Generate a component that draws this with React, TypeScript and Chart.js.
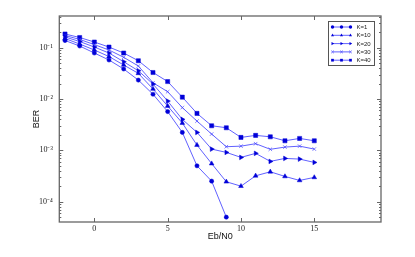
import { useEffect, useRef } from 'react';
import { Chart, registerables } from 'chart.js';
Chart.register(...registerables);

const ebn0 = [-2, -1, 0, 1, 2, 3, 4, 5, 6, 7, 8, 9, 10, 11, 12, 13, 14, 15];
const seriesLabels = ['K=1', 'K=10', 'K=20', 'K=30', 'K=40'];
const berK1 = [0.138, 0.108, 0.0788, 0.0576, 0.0385, 0.0234, 0.0124, 0.0057, 0.00224, 0.000501, 0.000252, 0.0000501];
const berK10 = [0.151, 0.118, 0.0902, 0.0673, 0.046, 0.0317, 0.0157, 0.00731, 0.00341, 0.00127, 0.000553, 0.000245, 0.000201, 0.00032, 0.000383, 0.000311, 0.00026, 0.000298];
const berK20 = [0.162, 0.132, 0.103, 0.0788, 0.0533, 0.0356, 0.0196, 0.00914, 0.00402, 0.00224, 0.00106, 0.000914, 0.000731, 0.000875, 0.000611, 0.000698, 0.000677, 0.000583];
const berK30 = [0.173, 0.145, 0.115, 0.0902, 0.0651, 0.044, 0.0208, 0.0139, 0.00682, 0.00372, 0.00208, 0.00118, 0.00121, 0.00135, 0.00105, 0.00116, 0.00121, 0.00106];
const berK40 = [0.185, 0.158, 0.129, 0.103, 0.0788, 0.0558, 0.0329, 0.0219, 0.0109, 0.00526, 0.00302, 0.00276, 0.00179, 0.00196, 0.00184, 0.00154, 0.00171, 0.00154];

const xMajorTicks = [0, 5, 10, 15];
const xTickLabels = ['0', '5', '10', '15'];
const yMajorTicks = [1e-4, 1e-3, 1e-2, 1e-1];
const yTickLabels = ['10⁻⁴', '10⁻³', '10⁻²', '10⁻¹'];

const LINE = 'rgba(30,30,255,0.7)';
const MARK = '#0000d8';

function drawMarker(ctx: CanvasRenderingContext2D, style: string, rot: number, x: number, y: number, r: number) {
  ctx.save();
  ctx.translate(x, y);
  ctx.rotate((rot * Math.PI) / 180);
  ctx.fillStyle = MARK;
  ctx.strokeStyle = MARK;
  ctx.beginPath();
  if (style === 'circle') {
    ctx.arc(0, 0, r, 0, Math.PI * 2);
    ctx.fill();
  } else if (style === 'triangle') {
    ctx.moveTo(0, -r);
    ctx.lineTo(r * 0.9, r * 0.6);
    ctx.lineTo(-r * 0.9, r * 0.6);
    ctx.closePath();
    ctx.fill();
  } else if (style === 'rect') {
    const s = r * 0.8;
    ctx.rect(-s, -s, 2 * s, 2 * s);
    ctx.fill();
  } else {
    ctx.strokeStyle = 'rgba(60,60,255,0.8)';
    ctx.lineWidth = 0.8;
    ctx.moveTo(-r * 0.8, -r * 0.8);
    ctx.lineTo(r * 0.8, r * 0.8);
    ctx.moveTo(r * 0.8, -r * 0.8);
    ctx.lineTo(-r * 0.8, r * 0.8);
    ctx.stroke();
  }
  ctx.restore();
}

const framePlugin = {
  id: 'frameTicksLegend',
  afterDatasetsDraw(chart: any) {
    const { ctx, chartArea: a, scales } = chart;
    const xs = scales.x;
    const ys = scales.y;
    ctx.save();
    ctx.strokeStyle = '#666';
    ctx.lineWidth = 1;
    ctx.beginPath();
    xMajorTicks.forEach((v) => {
      const px = Math.round(xs.getPixelForValue(v)) + 0.5;
      ctx.moveTo(px, a.bottom);
      ctx.lineTo(px, a.bottom - 4);
      ctx.moveTo(px, a.top);
      ctx.lineTo(px, a.top + 4);
    });
    ys.ticks.forEach((t: any) => {
      const py = Math.round(ys.getPixelForValue(t.value)) + 0.5;
      const len = yMajorTicks.includes(t.value) ? 4 : 2;
      ctx.moveTo(a.left, py);
      ctx.lineTo(a.left + len, py);
      ctx.moveTo(a.right, py);
      ctx.lineTo(a.right - len, py);
    });
    ctx.stroke();
    ctx.lineWidth = 1.3;
    ctx.strokeRect(a.left, a.top, a.right - a.left, a.bottom - a.top);

    // legend
    const bw = 46;
    const bh = 44;
    const bx = Math.round(a.right - 7 - bw) + 0.5;
    const by = Math.round(a.top + 5) + 0.5;
    ctx.fillStyle = '#fff';
    ctx.fillRect(bx, by, bw, bh);
    ctx.strokeStyle = '#555';
    ctx.lineWidth = 1;
    ctx.strokeRect(bx, by, bw, bh);
    ctx.font = '6px "Liberation Sans", Arial, sans-serif';
    ctx.textBaseline = 'middle';
    ctx.textAlign = 'left';
    chart.data.datasets.forEach((ds: any, i: number) => {
      const y = by + 5.5 + i * 8.3;
      const x0 = bx + 4;
      const x1 = bx + 22;
      ctx.strokeStyle = LINE;
      ctx.lineWidth = 1;
      ctx.beginPath();
      ctx.moveTo(x0, y);
      ctx.lineTo(x1, y);
      ctx.stroke();
      [x0, (x0 + x1) / 2, x1].forEach((mx) => drawMarker(ctx, ds.pointStyle, ds.pointRotation || 0, mx, y, 1.7));
      ctx.fillStyle = '#222';
      ctx.fillText(ds.label, bx + 28, y + 0.5);
    });
    ctx.restore();
  },
};

function toPoints(arr: number[]) {
  return arr.map((v, i) => ({ x: ebn0[i], y: v }));
}

export default function App() {
  const ref = useRef<HTMLCanvasElement | null>(null);
  useEffect(() => {
    document.body.style.margin = '0';
    const canvas = ref.current;
    if (!canvas) return;
    const seriesData = [berK1, berK10, berK20, berK30, berK40];
    const styles = ['circle', 'triangle', 'triangle', 'crossRot', 'rect'];
    const rots = [0, 0, 90, 0, 0];
    const radii = [2.1, 2.7, 2.7, 2.5, 2.9];
    const chart = new Chart(canvas, {
      type: 'line',
      data: {
        datasets: seriesData.map((arr, i) => ({
          label: seriesLabels[i],
          data: toPoints(arr),
          borderColor: LINE,
          borderWidth: 1,
          pointStyle: styles[i],
          pointRotation: rots[i],
          pointRadius: radii[i],
          pointBackgroundColor: MARK,
          pointBorderColor: i === 3 ? 'rgba(60,60,255,0.8)' : MARK,
          pointBorderWidth: i === 3 ? 0.8 : 0.5,
          fill: false,
          tension: 0,
        })) as any,
      },
      options: {
        animation: false,
        responsive: false,
        devicePixelRatio: 1,
        layout: { padding: { top: 16, right: 34, left: 0, bottom: 0 } },
        plugins: { legend: { display: false }, tooltip: { enabled: false } },
        scales: {
          x: {
            type: 'linear',
            min: -2.39,
            max: 19.55,
            afterBuildTicks: (s: any) => {
              s.ticks = xMajorTicks.map((v) => ({ value: v }));
            },
            afterFit: (s: any) => {
              s.height = 35;
            },
            ticks: {
              autoSkip: false,
              maxRotation: 0,
              padding: 2,
              color: '#222',
              font: { family: '"Liberation Serif", "Times New Roman", serif', size: 8 },
              callback: (v: any) => {
                const k = xMajorTicks.indexOf(Number(v));
                return k >= 0 ? xTickLabels[k] : '';
              },
            },
            grid: { display: false, drawTicks: false },
            border: { display: false },
            title: {
              display: true,
              text: 'Eb/N0',
              color: '#111',
              font: { family: '"Liberation Sans", Arial, sans-serif', size: 9 },
              padding: { top: 0, bottom: 15 },
            },
          },
          y: {
            type: 'logarithmic',
            min: 4.03e-5,
            max: 0.4146,
            afterBuildTicks: (s: any) => {
              const t: any[] = [];
              for (let d = -5; d <= 0; d++) {
                for (let m = 1; m <= 9; m++) {
                  const v = Number((m * Math.pow(10, d)).toPrecision(3));
                  if (v >= s.min && v <= s.max) t.push({ value: v });
                }
              }
              s.ticks = t;
            },
            afterFit: (s: any) => {
              s.width = 59.3;
            },
            ticks: {
              autoSkip: false,
              padding: 6.5,
              color: '#222',
              font: { family: '"Liberation Serif", "Times New Roman", serif', size: 8 },
              callback: (v: any) => {
                const n = Number(v);
                const k = yMajorTicks.findIndex((m) => Math.abs(m - n) / m < 1e-6);
                return k >= 0 ? yTickLabels[k] : '';
              },
            },
            grid: { display: false, drawTicks: false },
            border: { display: false },
            title: {
              display: true,
              text: 'BER',
              color: '#111',
              font: { family: '"Liberation Sans", Arial, sans-serif', size: 9 },
              padding: { top: 31, bottom: 0 },
            },
          },
        },
      },
      plugins: [framePlugin],
    });
    return () => chart.destroy();
  }, []);
  return (
    <div style={{ width: 415, height: 257, background: '#fff' }}>
      <canvas ref={ref} width={415} height={257} style={{ display: 'block', width: 415, height: 257 }} />
    </div>
  );
}
